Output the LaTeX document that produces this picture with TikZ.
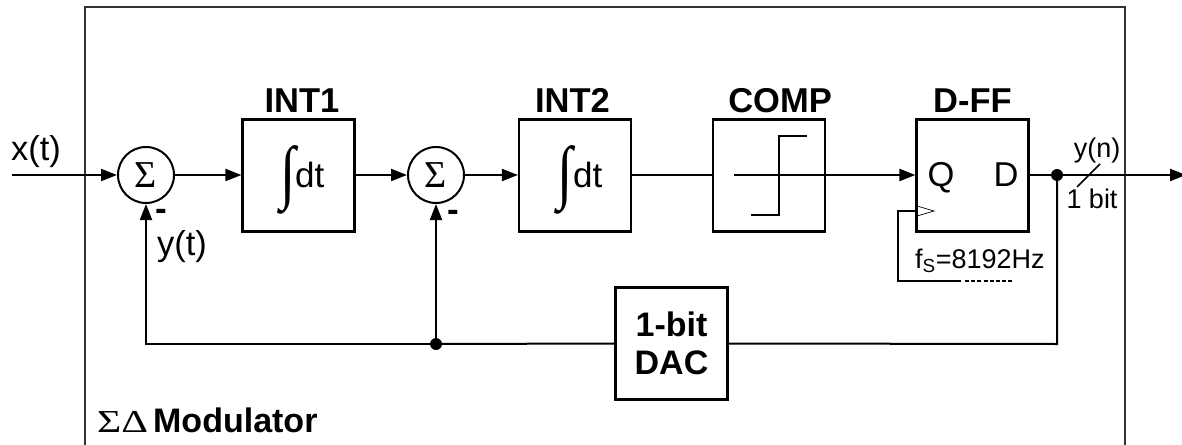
\documentclass[tikz,border=0pt]{standalone}
\usepackage{fontspec}
\usepackage{graphicx}
\setmainfont{Liberation Sans}
\usetikzlibrary{arrows.meta,calc}
\newfontfamily\symfont{Liberation Serif}
\tikzset{
 x=1pt,y=-1pt,
 wire/.style={line width=2pt,draw=black},
 sig/.style={wire,-{Triangle[length=16pt,width=12pt]}},
 block/.style={draw=black,line width=2.2pt,minimum width=112pt,minimum height=112pt,inner sep=0pt},
 summer/.style={circle,draw=black,line width=2pt,minimum size=56pt,inner sep=0pt,font=\fontsize{38}{38}\selectfont\symfont},
 title/.style={font=\fontsize{34.5}{36}\selectfont\bfseries,anchor=base},
 lab/.style={font=\fontsize{34.5}{36}\selectfont,anchor=base},
 small/.style={font=\fontsize{27}{28}\selectfont,anchor=base},
 dotn/.style={circle,fill=black,inner sep=0pt,minimum size=12pt},
 intg/.style={font=\fontsize{70}{70}\selectfont\symfont,anchor=base,inner sep=0pt},
 dtlab/.style={font=\fontsize{35}{36}\selectfont,anchor=base west,inner sep=0pt},
 minus/.style={font=\fontsize{35}{35}\selectfont\bfseries,anchor=base}
}
\begin{document}
\begin{tikzpicture}
\useasboundingbox (0,0) rectangle (1182,444);
\fill[white] (0,0) rectangle (1182,444);
\draw[line width=1.2pt,draw=black!80] (85,450) -- (85,7) -- (1125,7) -- (1125,450);
\coordinate (in) at (12,175);
\coordinate (out) at (1186,175);
\node[summer] (s1) at (146,175) {\raisebox{-3pt}{Σ}};
\node[summer] (s2) at (436,175) {\raisebox{-3pt}{Σ}};
\node[block] (i1) at (298.5,175.5) {};
\node[block] (i2) at (575,175.5) {};
\node[block] (cmp) at (769,175.5) {};
\node[block] (ff) at (972.5,175.5) {};
\node[block,font=\fontsize{34}{38}\selectfont\bfseries,align=center] (dac) at (671.5,343.5) {1-bit\\DAC};
\node[dotn] (j1) at (1057,175) {};
\node[dotn] (j2) at (436,344) {};
\coordinate (c1) at (146,344);
\coordinate (c2) at (1057,344);
\draw[sig] (in) -- (s1);
\draw[sig] (s1) -- (i1.west |- s1);
\draw[sig] (i1.east |- s2) -- (s2);
\draw[sig] (s2) -- (i2.west |- s2);
\draw[wire] (i2.east |- s2) -- (cmp.west |- s2);
\draw[sig] (cmp.east |- s2) -- (ff.west |- s2);
\draw[wire] (ff.east |- s2) -- (j1);
\draw[sig] (j1) -- (out);
\draw[wire] (j1) -- (c2) -- (dac.east);
\draw[wire] (dac.west) -- (j2);
\draw[sig] (j2) -- (c1) -- (s1);
\draw[sig] (j2) -- (s2);
% titles
\node[title] at (302,112) {INT1};
\node[title] at (572.5,112) {INT2};
\node[title] at (780,112) {COMP};
\node[title] at (972.5,112) {D-FF};
% integrals
\node[intg] at (288,195) {\scalebox{0.8}[1]{∫}};
\node[dtlab] at (295,187) {dt};
\node[intg] at (565.5,195) {\scalebox{0.8}[1]{∫}};
\node[dtlab] at (573,187) {dt};
% comparator
\draw[wire] (734,175) -- (824,175);
\draw[wire] (751,215) -- (779,215) -- (779,136) -- (807,136);
% ff
\node[lab] at (941,186) {Q};
\node[lab] at (1006,186) {D};
\draw[line width=0.7pt] (917,206) -- (934,211) -- (917,216);
\draw[wire] (917,211) -- (898,211) -- (898,281) -- (961,281);
\draw[wire,line width=1.5pt,dash pattern=on 4pt off 2.2pt] (965,281) -- (1012,281);
\node[font=\fontsize{27}{28}\selectfont,anchor=base west,inner sep=0pt] at (915,268) {f\textsubscript{S}=8192Hz};
% bus
\draw[line width=1.5pt,draw=black] (1077,187) -- (1100,164);
\node[small] at (1097,157) {y(n)};
\node[small] at (1092,208) {1 bit};
% labels
\node[lab] at (36,160) {x(t)};
\node[lab] at (182,255) {y(t)};
\node[minus] at (161.5,220) {-};
\node[minus] at (453,221) {-};
\node[font=\fontsize{34}{36}\selectfont\bfseries,anchor=base west,inner sep=0pt] at (97,432) {{\fontsize{32}{36}\selectfont\symfont\mdseries\scalebox{1.3}[1]{ΣΔ}}\kern5pt Modulator};
\end{tikzpicture}
\end{document}
